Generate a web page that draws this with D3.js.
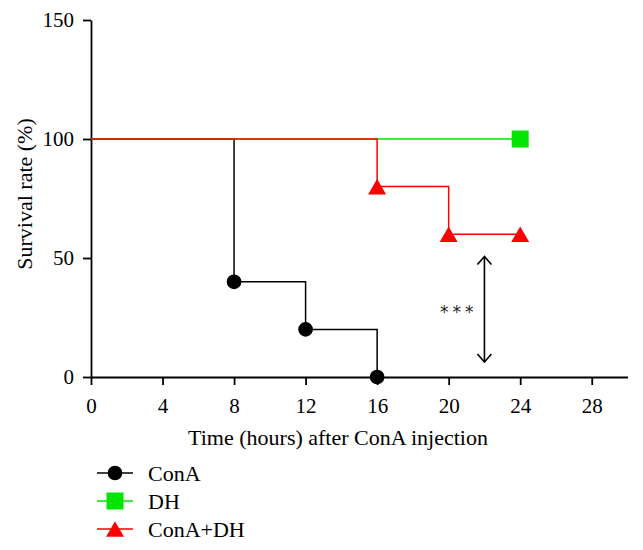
<!DOCTYPE html>
<html><head><meta charset="utf-8">
<script src="https://cdn.jsdelivr.net/npm/d3@7"></script>
<style>body{margin:0;background:#fff}</style>
</head><body>
<svg id="c" width="643" height="550"></svg>
<script>
const xTicks = [0,4,8,12,16,20,24,28];
const yTicks = [0,50,100,150];
const seriesNames = ["ConA","DH","ConA+DH"];
const seriesColors = ["#000000","#00e600","#ff0000"];
const seriesShapes = ["circle","square","triangle"];
// step curves: [time, survival]
const conaSteps = [[0,100],[8,100],[8,40],[12,40],[12,20],[16,20],[16,0]];
const dhSteps = [[0,100],[24,100]];
const condhSteps = [[0,100],[16,100],[16,80],[20,80],[20,60],[24,60]];
const conaMarks = [[8,40],[12,20],[16,0]];
const dhMarks = [[24,100]];
const condhMarks = [[16,80],[20,60],[24,60]];
const sigLabel = "***";
const sigRange = [22, 50.6, 6.3];

const svg = d3.select("#c");
const font = "'Liberation Serif','Times New Roman',serif";
const x = d3.scaleLinear().domain([0,30]).range([91,627.5]);
const y = d3.scaleLinear().domain([0,150]).range([377,20]);

const xAxis = svg.append("g").attr("transform","translate(0,377)")
  .call(d3.axisBottom(x).tickValues(xTicks).tickSize(8).tickSizeOuter(0).tickPadding(13).tickFormat(d3.format("d")));
const yAxis = svg.append("g").attr("transform","translate(91,0)")
  .call(d3.axisLeft(y).tickValues(yTicks).tickSize(8).tickSizeOuter(0).tickPadding(9).tickFormat(d3.format("d")));
[xAxis,yAxis].forEach(a=>{
  a.attr("font-size",21).attr("font-family",font);
  a.select(".domain").attr("stroke","#000").attr("stroke-width",1.8);
  a.selectAll(".tick line").attr("stroke","#000").attr("stroke-width",1.8);
  a.selectAll("text").attr("font-family",font).attr("font-size",21).attr("fill","#000");
});

svg.append("text").attr("x",338).attr("y",445).attr("text-anchor","middle")
  .attr("font-family",font).attr("font-size",22).text("Time (hours) after ConA injection");
svg.append("text").attr("transform","translate(32,194) rotate(-90)").attr("text-anchor","middle")
  .attr("font-family",font).attr("font-size",22).text("Survival rate (%)");

const line = d3.line().x(d=>x(d[0])).y(d=>y(d[1]));
const stepsAll = [conaSteps, dhSteps, condhSteps];
const marksAll = [conaMarks, dhMarks, condhMarks];
const sym = {circle:d3.symbolCircle, square:d3.symbolSquare, triangle:d3.symbolTriangle};
const symSize = {circle:170, square:289, triangle:140};
const symShift = {circle:0, square:0, triangle:2.6};

stepsAll.forEach((s,i)=>{
  svg.append("path").datum(s).attr("d",line).attr("fill","none")
    .attr("stroke",seriesColors[i]).attr("stroke-width",1.5);
});
marksAll.forEach((m,i)=>{
  const sh = seriesShapes[i];
  svg.selectAll(null).data(m).enter().append("path")
    .attr("transform",d=>`translate(${x(d[0])},${y(d[1]) + symShift[sh]})`)
    .attr("d",d3.symbol().type(sym[sh]).size(symSize[sh]))
    .attr("fill",seriesColors[i]);
});

// significance arrow
const ax = x(sigRange[0]), ay1 = y(sigRange[1]), ay2 = y(sigRange[2]);
const arrowStyle = s => s.attr("fill","none").attr("stroke","#000").attr("stroke-width",1.6);
svg.append("line").attr("x1",ax).attr("x2",ax).attr("y1",ay1).attr("y2",ay2).call(arrowStyle);
svg.append("path").attr("d",`M${ax-7},${ay1+8}L${ax},${ay1}L${ax+7},${ay1+8}`).call(arrowStyle);
svg.append("path").attr("d",`M${ax-7},${ay2-8}L${ax},${ay2}L${ax+7},${ay2-8}`).call(arrowStyle);
svg.append("text").attr("x",440).attr("y",318)
  .attr("font-family","'DejaVu Sans',sans-serif").attr("font-size",17).attr("letter-spacing",4).attr("fill","#222").text(sigLabel);

// legend
seriesNames.forEach((n,i)=>{
  const ly = 473 + i*28;
  const sh = seriesShapes[i];
  const g = svg.append("g");
  g.append("line").attr("x1",97).attr("x2",133).attr("y1",ly).attr("y2",ly)
    .attr("stroke",seriesColors[i]).attr("stroke-width",1.5);
  g.append("path").attr("transform",`translate(115,${ly + symShift[sh]})`)
    .attr("d",d3.symbol().type(sym[sh]).size(symSize[sh]))
    .attr("fill",seriesColors[i]);
  g.append("text").attr("x",148).attr("y",ly+8).attr("font-family",font).attr("font-size",22).text(n);
});
</script>
</body></html>
